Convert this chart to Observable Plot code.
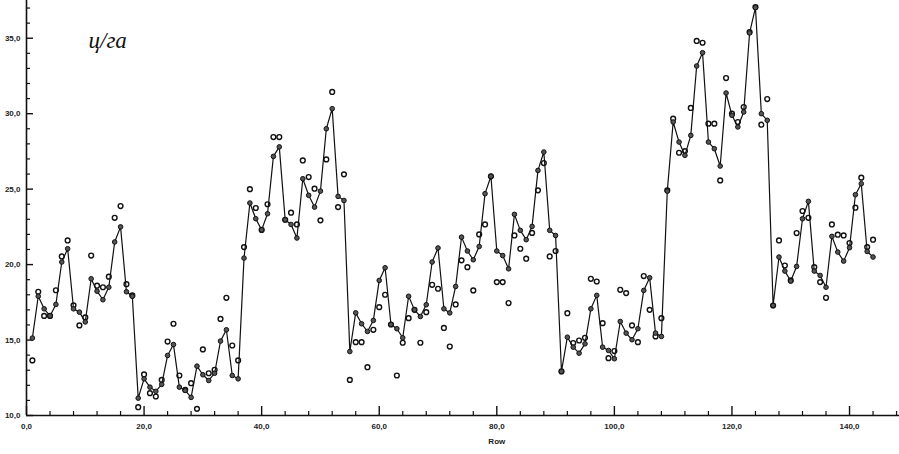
<!DOCTYPE html>
<html>
<head>
<meta charset="utf-8">
<script src="https://cdn.jsdelivr.net/npm/d3@7"></script>
<script src="https://cdn.jsdelivr.net/npm/@observablehq/plot@0.6"></script>
<style>
  html, body { margin: 0; padding: 0; background: #fff; }
  #chart { width: 899px; height: 454px; }
</style>
</head>
<body>
<div id="chart"></div>
<script>
// Row numbers
const rows = d3.range(1, 145);

// Fitted (smoothed) series – connected line with dark points
const fitted = [
  15.13, 17.9, 17.07, 16.6, 17.36, 20.17, 21.05, 17.07, 16.85, 16.2,
  19.06, 18.24, 17.67, 18.5, 21.5, 22.5, 18.2, 17.9, 11.15, 12.43,
  11.88, 11.6, 12.06, 13.98, 14.7, 11.88, 11.66, 11.2, 13.27, 12.7,
  12.32, 12.8, 14.93, 15.68, 12.65, 12.43, 20.43, 24.08, 23.04, 22.3,
  23.37, 27.17, 27.8, 22.97, 22.66, 21.76, 25.69, 24.59, 23.81, 24.87,
  29.0, 30.33, 24.52, 24.25, 14.24, 16.8, 16.08, 15.57, 16.3, 18.95,
  19.79, 16.03, 15.75, 15.15, 17.9, 17.0, 16.56, 17.34, 20.17, 21.1,
  17.07, 16.8, 18.55, 21.82, 20.9, 20.32, 21.2, 24.7, 25.85, 20.9,
  20.6, 19.72, 23.33, 22.27, 21.65, 22.53, 26.24, 27.46, 22.27, 21.93,
  12.92, 15.19, 14.53, 14.13, 14.75, 17.07, 17.96, 14.53, 14.31, 13.76,
  16.23, 15.46, 15.02, 15.75, 18.29, 19.13, 15.46, 15.24, 24.87, 29.45,
  28.12, 27.24, 28.56, 33.16, 34.04, 28.12, 27.68, 26.53, 31.37, 29.89,
  29.12, 30.11, 35.35, 37.03, 30.0, 29.56, 17.29, 20.5, 19.57, 18.91,
  19.88, 23.04, 24.19, 19.57, 19.28, 18.5, 21.87, 20.83, 20.23, 21.12,
  24.63, 25.36, 20.87, 20.5
];

// Observed values – open circles
const observed = [
  13.65, 18.2, 16.6, 16.6, 18.3, 20.54, 21.6, 17.3, 15.97, 16.5,
  20.6, 18.6, 18.5, 19.2, 23.1, 23.88, 18.7, 17.96, 10.55, 12.72,
  11.48, 11.26, 12.36, 14.9, 16.08, 12.65, 11.7, 12.14, 10.44, 14.38,
  12.8, 13.03, 16.4, 17.8, 14.64, 13.65, 21.16, 25.0, 23.75, 22.3,
  24.0, 28.45, 28.45, 22.97, 23.44, 22.66, 26.9, 25.8, 25.03, 22.93,
  26.97, 31.44, 23.81, 25.98, 12.36, 14.86, 14.86, 13.2, 15.68, 17.18,
  18.0, 16.03, 12.65, 14.82, 16.45, 17.0, 14.82, 16.85, 18.66, 18.4,
  15.8, 14.57, 17.36, 20.28, 19.83, 18.29, 22.0, 22.66, 25.85, 18.84,
  18.84, 17.45, 21.93, 21.05, 20.39, 22.1, 24.92, 26.73, 20.54, 20.9,
  12.92, 16.78, 14.8, 14.97, 15.15, 19.06, 18.88, 16.12, 13.8, 14.27,
  18.33, 18.11, 15.97, 14.86, 19.24, 17.0, 15.24, 16.45, 24.92, 29.67,
  27.41, 27.52, 30.38, 34.82, 34.7, 29.34, 29.34, 25.58, 32.36, 30.0,
  29.45, 30.44, 35.41, 37.07, 29.27, 30.97, 17.29, 21.6, 19.94, 18.95,
  22.09, 23.55, 23.1, 19.83, 18.84, 17.8, 22.66, 21.98, 21.93, 21.43,
  23.77, 25.76, 21.16, 21.65
];

// Axis ticks
const xMajorTicks = d3.range(0, 141, 20);
const xMinorTicks = d3.range(0, 149, 4).filter(d => d % 20 !== 0);
const yMajorTicks = d3.range(10, 36, 5);
const yMinorTicks = d3.range(10, 38, 1).filter(d => d % 5 !== 0);
const xLabel = "Row";
const xLabelAt = 80;
const unitLabel = "ц/га";

const fmt = d => d.toFixed(1).replace(".", ",");

const fittedData = rows.map((r, i) => ({row: r, value: fitted[i]}));
const observedData = rows.map((r, i) => ({row: r, value: observed[i]}));

const tickFont = {fontFamily: "Liberation Sans, Arial, sans-serif", fontSize: 8, fontWeight: "bold", fill: "#222"};

const chart = Plot.plot({
  width: 899,
  height: 454,
  marginLeft: 26,
  marginRight: 0,
  marginTop: 0,
  marginBottom: 39,
  style: {background: "#fff", color: "#111"},
  x: {domain: [0, 148.5]},
  y: {domain: [10, 37.5]},
  marks: [
    // minor ticks (inward)
    Plot.axisX(xMinorTicks, {tickSize: -4, tickFormat: () => "", label: null, strokeWidth: 1.2}),
    Plot.axisX(xMajorTicks, {tickSize: -9, tickFormat: () => "", label: null, strokeWidth: 1.4}),
    Plot.axisX(xMajorTicks, {tickSize: 0, tickPadding: 8, tickFormat: fmt, label: null, ...tickFont}),
    Plot.axisY(yMinorTicks, {tickSize: -4, tickFormat: () => "", label: null, strokeWidth: 1.2}),
    Plot.axisY(yMajorTicks, {tickSize: -7, tickFormat: () => "", label: null, strokeWidth: 1.4}),
    Plot.axisY(yMajorTicks, {tickSize: 0, tickPadding: 6, tickFormat: fmt, label: null, ...tickFont}),
    Plot.ruleX([0], {stroke: "#111", strokeWidth: 1.6}),
    Plot.ruleY([10], {stroke: "#111", strokeWidth: 1.6}),
    Plot.text([xLabel], {x: () => xLabelAt, frameAnchor: "bottom", lineAnchor: "middle", dy: 26, ...tickFont}),
    Plot.text([unitLabel], {frameAnchor: "top-left", lineAnchor: "middle", dx: 62, dy: 40, fontFamily: "Liberation Serif, Times New Roman, serif", fontStyle: "italic", fontSize: 23, fill: "#111", textAnchor: "start"}),
    Plot.dot(observedData, {x: "row", y: "value", r: 2.4, fill: "#fff", stroke: "#111", strokeWidth: 1.4}),
    Plot.line(fittedData, {x: "row", y: "value", stroke: "#111", strokeWidth: 1.2}),
    Plot.dot(fittedData, {x: "row", y: "value", r: 2.3, fill: "#555", stroke: "#111", strokeWidth: 1})
  ]
});

document.getElementById("chart").appendChild(chart);
</script>
</body>
</html>
